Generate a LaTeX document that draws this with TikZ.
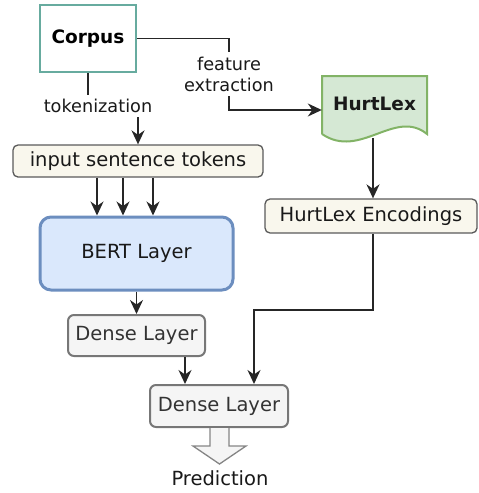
\documentclass[tikz,border=0pt]{standalone}
\usepackage{fontspec}
\setmainfont{DejaVu Sans}
\usetikzlibrary{arrows.meta,calc}
\definecolor{tealb}{HTML}{67AB9F}
\definecolor{greenf}{HTML}{D5E8D4}
\definecolor{greenb}{HTML}{82B366}
\definecolor{bluef}{HTML}{DAE8FC}
\definecolor{blueb}{HTML}{6C8EBF}
\definecolor{creamf}{HTML}{F9F7ED}
\definecolor{creamb}{HTML}{5A5A5A}
\definecolor{grayf}{HTML}{F5F5F5}
\definecolor{grayb}{HTML}{777777}
\definecolor{txtg}{HTML}{333333}
\tikzset{
  boxfont/.style={font=\fontsize{19.5}{22}\selectfont},
  lblfont/.style={font=\fontsize{17.7}{22}\selectfont},
  conn/.style={draw=black!85, line width=1.5pt},
  arr/.style={conn, -{Stealth[length=14pt,width=13pt,inset=4.5pt]}},
  lbl/.style={lblfont, fill=white, inner sep=4.5pt, align=center, text=black!90},
  creambox/.style={boxfont, draw=creamb, fill=creamf, line width=1.3pt, rounded corners=5pt, inner sep=0pt, text=black!90},
  densebox/.style={boxfont, draw=grayb, fill=grayf, line width=2pt, rounded corners=6pt, inner sep=0pt, text=txtg},
}
\begin{document}
\begin{tikzpicture}[x=1pt,y=-1pt]
\useasboundingbox (0,0) rectangle (479,493);

% Corpus
\node[draw=tealb, line width=2.4pt, fill=white, minimum width=96pt, minimum height=67pt, inner sep=0pt,
      font=\fontsize{18.5}{22}\selectfont\bfseries] (corpus) at (88,38.5) {Corpus};

% HurtLex document shape
\fill[greenf] (322,76) -- (427,76) -- (427,134) .. controls (395,108) and (360,160) .. (322,134) -- cycle;
\draw[greenb, line width=2pt, line join=miter] (322,134) -- (322,76) -- (427,76) -- (427,134)
      .. controls (395,108) and (360,160) .. (322,134);
\coordinate (hlbottom) at (373,138);
\node[minimum width=105pt, minimum height=58pt, inner sep=0pt,
      font=\fontsize{18.5}{22}\selectfont\bfseries, text=black!90] (hurtlex) at (374.5,105) {\raisebox{3pt}{HurtLex}};

% boxes
\node[creambox, minimum width=250pt, minimum height=32pt] (tokens) at (138,161) {input sentence tokens};
\node[creambox, minimum width=212pt, minimum height=34pt] (enc) at (371,216) {HurtLex Encodings};
\node[boxfont, draw=blueb, fill=bluef, line width=3pt, rounded corners=11pt, minimum width=193pt, minimum height=73pt,
      inner sep=0pt, text=black!90] (bert) at (136.5,253.5) {BERT Layer};
\node[densebox, minimum width=137pt, minimum height=41pt] (dense1) at (136.5,335.5) {Dense Layer};
\node[densebox, minimum width=138pt, minimum height=42pt] (dense2) at (219,406) {Dense Layer};
\node[boxfont, inner sep=0pt, text=black!90] (pred) at (220,478) {Prediction};

% connectors
\draw[arr] (corpus.south) -- (88,106) -- node[lbl, pos=0.2] {tokenization} (tokens.north |- 0,106) -- (tokens.north);
\draw[arr] (corpus.east) -- (229,38.5) -- node[lbl] {feature\\[-1pt]extraction} (229,110) -- (hurtlex.west |- 0,110);
\foreach \dx in {-41,-15,15}{
  \draw[arr] ([xshift=\dx pt]tokens.south) -- ([xshift=\dx pt]tokens.south |- bert.north);
}
\draw[arr] (hlbottom) -- (enc.north -| hlbottom);
\draw[arr] (bert.south) -- (dense1.north);
\draw[arr] ([xshift=48.5pt]dense1.south) -- ([xshift=48.5pt]dense1.south |- dense2.north);
\draw[arr] (enc.south -| hlbottom) -- (373,310) -- (254,310) -- (dense2.north -| 254,0);

% prediction hollow arrow
\draw[draw=grayb!90, fill=grayf, line width=1.3pt, line join=miter]
  ([xshift=-9pt]dense2.south) -- ++(0,18) -- ++(-17,0) -- ++(26.5,18) -- ++(26.5,-18) -- ++(-17,0) -- ++(0,-18);
\end{tikzpicture}
\end{document}
